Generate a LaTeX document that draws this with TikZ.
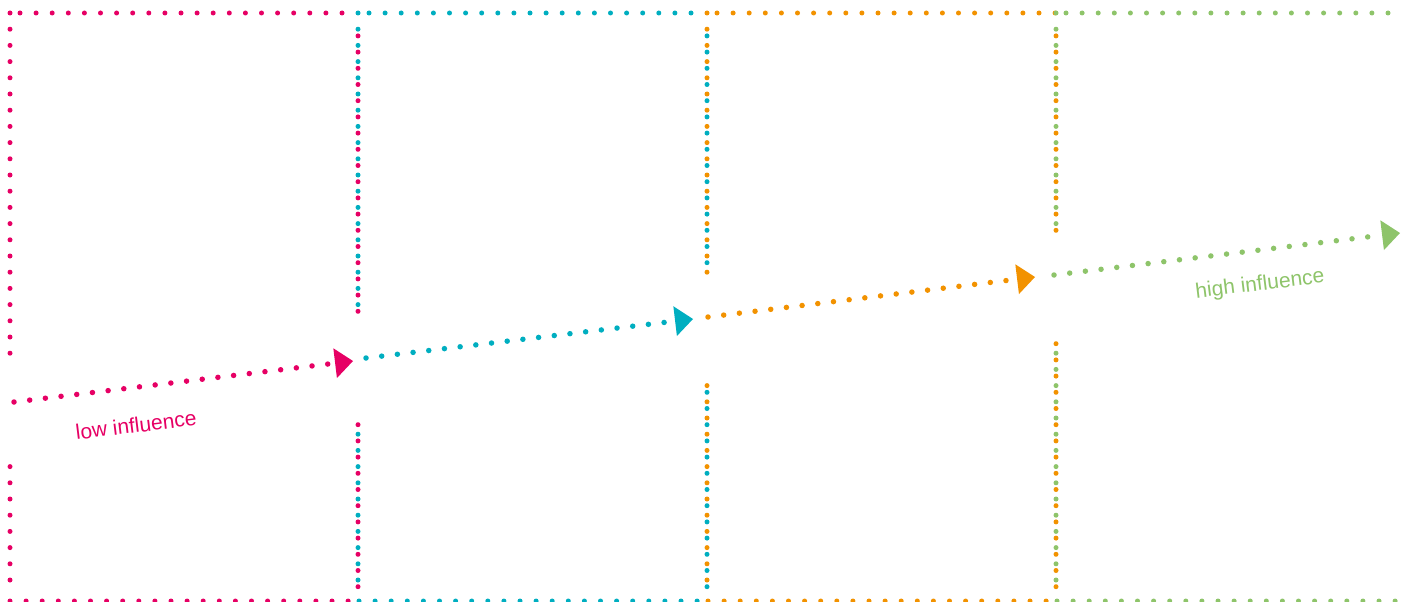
\documentclass[tikz,border=0pt]{standalone}
\usepackage{fontspec}
\setmainfont{Liberation Sans}
\usetikzlibrary{arrows.meta}
\definecolor{cpink}{RGB}{230,0,100}
\definecolor{ccyan}{RGB}{0,174,192}
\definecolor{corange}{RGB}{242,146,0}
\definecolor{cgreen}{RGB}{142,196,106}
\begin{document}
\begin{tikzpicture}[x=1pt,y=-1pt,
  bh/.style={line width=5pt,line cap=round,dash pattern=on 0pt off 16.1pt},
  bv/.style={line width=5pt,line cap=round,dash pattern=on 0pt off 16.2pt},
  flow/.style={line width=5.5pt,line cap=round,dash pattern=on 0pt off 15.8pt,
    -{Triangle[length=18pt,width=30pt,line width=0pt]}},
  lbl/.style={font=\fontsize{21}{25}\selectfont,rotate=7,inner sep=0pt}]
\useasboundingbox (0,0) rectangle (1401,602);
% pink box
\draw[bv,cpink] (10,13) -- (10,354);
\draw[bv,cpink] (10,466.6) -- (10,580.5);
\draw[bh,cpink] (20,13) -- (358,13);
\draw[bh,cpink] (10,601) -- (358,601);
\draw[bv,cpink] (358,35.9) -- (358,312);
\draw[bv,cpink] (358,424.7) -- (358,587.2);
% cyan box
\draw[bv,ccyan] (358,13) -- (358,305);
\draw[bv,ccyan] (358,434.2) -- (358,580.5);
\draw[bh,ccyan] (369,13) -- (707,13);
\draw[bh,ccyan] (359,601) -- (707,601);
\draw[bv,ccyan] (707,35.9) -- (707,263);
\draw[bv,ccyan] (707,392.3) -- (707,587.2);
% orange box
\draw[bv,corange] (707,13) -- (707,273);
\draw[bv,corange] (707,385.6) -- (707,580.5);
\draw[bh,corange] (717,13) -- (1056,13);
\draw[bh,corange] (708,601) -- (1056,601);
\draw[bv,corange] (1056,35.9) -- (1056,231);
\draw[bv,corange] (1056,343.7) -- (1056,587.2);
% green box
\draw[bv,cgreen] (1056,13) -- (1056,224);
\draw[bv,cgreen] (1056,353.2) -- (1056,580.5);
\draw[bh,cgreen] (1066,13) -- (1392,13);
\draw[bh,cgreen] (1057,601) -- (1401,601);
% flow arrows
\coordinate (p0) at (14,402);
\coordinate (p1) at (353,361);
\coordinate (c0) at (366,358);
\coordinate (c1) at (693,319);
\coordinate (o0) at (708,317);
\coordinate (o1) at (1035,277);
\coordinate (g0) at (1054,275);
\coordinate (g1) at (1400,233);
\draw[flow,cpink] (p0) -- (p1);
\draw[flow,ccyan] (c0) -- (c1);
\draw[flow,corange] (o0) -- (o1);
\draw[flow,cgreen] (g0) -- (g1);
% labels
\node[lbl,text=cpink] (low) at (136,425) {low influence};
\node[lbl,text=cgreen] (high) at (1260,285) {high influence};
\end{tikzpicture}
\end{document}
